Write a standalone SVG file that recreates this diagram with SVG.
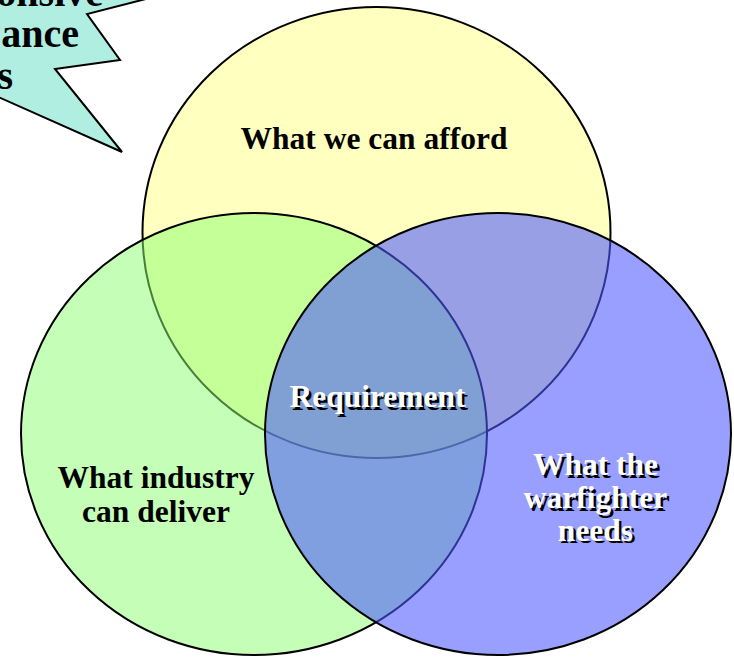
<svg xmlns="http://www.w3.org/2000/svg" width="734" height="657" viewBox="0 0 734 657">
  <style>
    .ring { stroke: #000; stroke-width: 2; }
    .label { font-family: "Liberation Serif", "Times New Roman", serif; font-weight: bold; font-size: 31.5px; text-anchor: middle; }
    .dark { fill: #000; }
    .lit { fill: #fff; }
    .shade { fill: #000; }
    .burst-text { font-family: "Liberation Serif", "Times New Roman", serif; font-weight: bold; font-size: 40px; text-anchor: end; fill: #000; }
  </style>
  <rect width="734" height="657" fill="#fff"/>

  <!-- callout starburst in the top-left corner -->
  <g id="callout">
    <polygon points="-40,-40 240,-25 87,14 120,60 55,69 122,152 -40,80" fill="#AFEEE0" stroke="#000" stroke-width="2" stroke-linejoin="miter"/>
    <text class="burst-text" x="103" y="6">onsive</text>
    <text class="burst-text" x="79" y="47">ance</text>
    <text class="burst-text" x="13" y="89">s</text>
  </g>

  <!-- three overlapping sets, later ones tint what lies beneath -->
  <g id="afford">
    <ellipse class="ring" cx="376.5" cy="232.5" rx="234" ry="225.5" fill="#FFFFC0"/>
  </g>
  <g id="industry">
    <ellipse class="ring" cx="254" cy="434" rx="233" ry="221" fill="#8CFF70" fill-opacity="0.5"/>
  </g>
  <g id="warfighter">
    <ellipse class="ring" cx="498" cy="434" rx="233" ry="221" fill="#4E58FF" fill-opacity="0.576"/>
  </g>

  <g id="connectors"></g>

  <!-- set labels -->
  <g id="afford-label">
    <text class="label dark" x="374" y="149">What we can afford</text>
  </g>
  <g id="industry-label">
    <text class="label dark" x="156" y="488">What industry</text>
    <text class="label dark" x="156" y="522">can deliver</text>
  </g>
  <g id="requirement-label">
    <text class="label shade" x="380" y="409.5">Requirement</text>
    <text class="label lit" x="377.5" y="407">Requirement</text>
  </g>
  <g id="warfighter-label">
    <g class="label shade">
      <text x="598" y="477.5">What the</text>
      <text x="598" y="510.5">warfighter</text>
      <text x="598" y="543">needs</text>
    </g>
    <g class="label lit">
      <text x="595.5" y="475">What the</text>
      <text x="595.5" y="508">warfighter</text>
      <text x="595.5" y="540.5">needs</text>
    </g>
  </g>
</svg>
